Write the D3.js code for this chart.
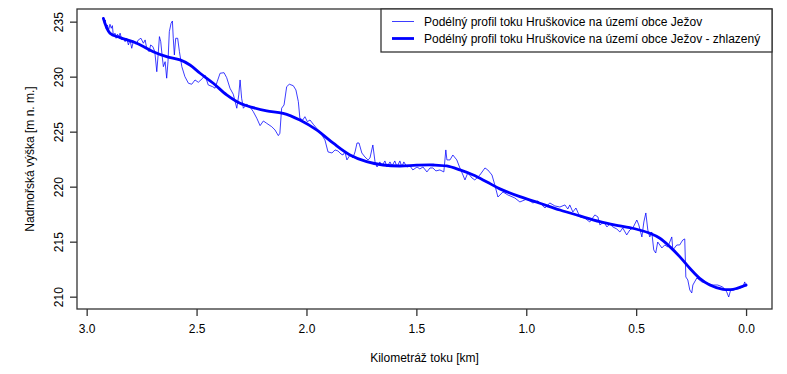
<!DOCTYPE html>
<html><head><meta charset="utf-8">
<script src="https://cdn.jsdelivr.net/npm/d3@7"></script>
<style>
body{margin:0;background:#fff}
text{font-family:"Liberation Sans",Arial,Helvetica,sans-serif;fill:#000}
</style>
</head><body>
<svg id="c" width="787" height="374"></svg>
<script>
// ---- data (km from mouth, altitude m n. m.) ----
const profileKm = [2.924,2.919,2.915,2.912,2.906,2.900,2.894,2.888,2.883,2.879,2.871,2.866,2.860,2.853,2.848,2.840,2.833,2.825,2.818,2.810,2.803,2.795,2.788,2.775,2.765,2.753,2.742,2.734,2.727,2.716,2.709,2.699,2.690,2.681,2.675,2.669,2.663,2.657,2.651,2.643,2.636,2.630,2.624,2.616,2.610,2.606,2.601,2.595,2.586,2.578,2.567,2.553,2.537,2.522,2.507,2.492,2.472,2.462,2.447,2.427,2.416,2.406,2.393,2.375,2.363,2.348,2.333,2.317,2.308,2.302,2.295,2.287,2.272,2.257,2.242,2.226,2.211,2.196,2.181,2.158,2.143,2.128,2.121,2.113,2.102,2.090,2.078,2.060,2.048,2.037,2.030,2.017,2.007,1.996,1.984,1.969,1.954,1.939,1.916,1.902,1.884,1.870,1.857,1.843,1.834,1.825,1.816,1.802,1.789,1.779,1.770,1.761,1.748,1.734,1.720,1.711,1.698,1.688,1.679,1.666,1.657,1.643,1.634,1.620,1.611,1.598,1.588,1.575,1.566,1.557,1.543,1.529,1.516,1.497,1.484,1.470,1.452,1.438,1.425,1.411,1.393,1.375,1.366,1.361,1.347,1.334,1.316,1.302,1.288,1.279,1.266,1.247,1.234,1.211,1.188,1.175,1.156,1.143,1.129,1.106,1.084,1.052,1.029,0.997,0.970,0.947,0.915,0.893,0.870,0.847,0.824,0.811,0.802,0.788,0.774,0.756,0.734,0.711,0.688,0.674,0.665,0.647,0.633,0.620,0.606,0.588,0.574,0.561,0.543,0.529,0.515,0.497,0.488,0.474,0.465,0.456,0.447,0.438,0.429,0.420,0.411,0.402,0.383,0.370,0.356,0.338,0.333,0.315,0.302,0.288,0.279,0.274,0.265,0.256,0.247,0.242,0.224,0.201,0.179,0.151,0.129,0.106,0.088,0.079,0.070,0.060,0.038,0.015,0.006,0.000];
const profileM = [235.30,234.85,235.15,234.40,234.70,234.25,234.76,234.40,234.64,233.79,233.95,233.49,233.86,233.64,233.95,233.34,233.49,233.18,233.49,232.88,233.34,232.58,233.18,232.95,233.34,233.49,233.04,233.34,232.58,232.27,232.88,232.73,232.27,230.45,231.97,233.64,233.18,231.97,230.91,231.36,229.86,231.36,234.09,234.85,235.06,233.49,231.97,233.49,233.49,232.27,230.91,230.00,229.40,229.31,229.70,229.49,229.86,230.15,229.25,229.09,228.95,229.55,230.31,230.36,229.91,228.95,228.40,227.13,228.34,229.70,228.04,227.13,227.49,227.27,226.82,226.22,225.55,225.97,225.76,225.45,225.15,224.64,224.85,227.13,227.43,229.09,229.31,229.18,228.79,227.73,226.22,226.06,226.36,225.91,226.06,225.67,225.31,224.97,224.25,223.16,223.06,223.34,223.25,222.97,222.88,223.16,222.43,222.88,222.61,223.16,223.97,223.97,223.06,222.70,222.43,222.61,223.79,222.25,221.79,222.25,221.88,222.34,221.79,222.25,221.88,222.34,221.79,222.34,221.79,222.25,221.79,221.88,221.52,221.79,221.61,221.79,221.34,221.70,221.70,221.43,221.52,221.34,223.34,222.43,222.43,222.88,222.43,221.70,221.06,220.61,221.25,220.79,220.61,221.06,221.70,221.52,221.06,220.15,219.06,219.52,219.25,218.97,218.61,218.88,218.52,218.70,218.06,218.52,218.25,218.15,218.34,217.97,218.34,217.70,218.06,217.25,217.15,216.79,217.43,217.25,216.52,216.79,216.34,216.61,216.34,216.15,215.88,216.25,215.61,216.06,216.25,216.97,216.52,215.43,216.79,217.61,216.06,215.43,215.88,214.25,213.97,214.97,214.43,214.70,214.52,215.43,214.25,214.70,214.70,215.15,215.25,211.79,211.52,210.61,210.34,211.06,211.70,211.34,211.25,211.06,211.06,210.88,210.43,209.97,210.61,210.61,210.70,210.88,211.34,210.88];

const smoothKm = [2.924,2.894,2.848,2.772,2.697,2.636,2.575,2.530,2.484,2.424,2.363,2.302,2.242,2.181,2.106,2.030,1.954,1.878,1.802,1.726,1.651,1.575,1.499,1.423,1.362,1.302,1.241,1.181,1.120,1.029,0.938,0.847,0.756,0.665,0.574,0.498,0.438,0.392,0.347,0.302,0.256,0.211,0.165,0.105,0.059,0.000];
const smoothM = [235.30,233.95,233.55,233.04,232.27,231.82,231.52,231.06,230.31,229.40,228.34,227.58,227.18,226.88,226.67,226.06,225.16,223.95,222.88,222.27,221.97,221.88,221.95,221.97,221.88,221.52,221.06,220.45,219.80,219.09,218.49,217.88,217.34,216.82,216.43,216.13,215.76,215.31,214.55,213.64,212.58,211.67,211.06,210.67,210.67,211.06];

const xTicks = [3.0,2.5,2.0,1.5,1.0,0.5,0.0];
const yTicks = [210,215,220,225,230,235];
const xTitle = "Kilometráž toku [km]";
const yTitle = "Nadmořská výška [m n. m.]";
const legendLabels = ["Podélný profil toku Hruškovice na území obce Ježov",
                      "Podélný profil toku Hruškovice na území obce Ježov - zhlazený"];

// ---- layout ----
const box = {l:77, r:772, t:9, b:309};
const svg = d3.select("#c");
const x = d3.scaleLinear().domain([3.044, -0.118]).range([box.l, box.r]);
const y = d3.scaleLinear().domain([208.88, 236.15]).range([box.b, box.t]);
const axisCol = "#333";

// lines
const profile = profileKm.map((k,i)=>[k, profileM[i]]);
const smooth = smoothKm.map((k,i)=>[k, smoothM[i]]);
const line = d3.line().x(d=>x(d[0])).y(d=>y(d[1]));
svg.append("path").datum(profile).attr("d", line)
  .attr("fill","none").attr("stroke","#0000ff").attr("stroke-opacity",0.85).attr("stroke-width",0.9).attr("stroke-linejoin","round");
svg.append("path").datum(smooth).attr("d", line.curve(d3.curveCatmullRom.alpha(0.5)))
  .attr("fill","none").attr("stroke","#0000ff").attr("stroke-width",2.8).attr("stroke-linecap","round");

// box
svg.append("rect").attr("x",box.l).attr("y",box.t).attr("width",box.r-box.l).attr("height",box.b-box.t)
  .attr("fill","none").attr("stroke",axisCol).attr("stroke-width",1.3);

// x axis
const gx = svg.append("g").attr("transform",`translate(0,${box.b})`)
  .call(d3.axisBottom(x).tickValues(xTicks).tickFormat(d3.format(".1f")).tickSize(7).tickPadding(8));
gx.select(".domain").remove();
gx.selectAll(".tick line").attr("stroke",axisCol).attr("stroke-width",1.3);
gx.selectAll(".tick text").attr("font-size",12).attr("font-family","Liberation Sans, Arial, sans-serif").attr("fill","#000");

// y axis
const gy = svg.append("g").attr("transform",`translate(${box.l},0)`)
  .call(d3.axisLeft(y).tickValues(yTicks).tickSize(7));
gy.select(".domain").remove();
gy.selectAll(".tick line").attr("stroke",axisCol).attr("stroke-width",1.3);
gy.selectAll(".tick text").attr("font-size",12).attr("font-family","Liberation Sans, Arial, sans-serif").attr("fill","#000")
  .attr("transform","rotate(-90)").attr("x",0).attr("y",-14.4).attr("dy",0).attr("text-anchor","middle");

// titles
svg.append("text").attr("x",(box.l+box.r)/2).attr("y",362).attr("text-anchor","middle").attr("font-size",12).text(xTitle);
svg.append("text").attr("transform",`translate(33.8,${(box.t+box.b)/2}) rotate(-90)`).attr("text-anchor","middle").attr("font-size",12).text(yTitle);

// legend
const lg = {x:381, y:9, w:box.r-381, h:43};
svg.append("rect").attr("x",lg.x).attr("y",lg.y).attr("width",lg.w).attr("height",lg.h)
  .attr("fill","#fff").attr("stroke",axisCol).attr("stroke-width",1.3);
legendLabels.forEach((lab,i)=>{
  const yy = lg.y + 12.5 + i*17;
  svg.append("line").attr("x1",392).attr("x2",414).attr("y1",yy).attr("y2",yy)
    .attr("stroke","#0000ff").attr("stroke-opacity", i===0?0.85:1).attr("stroke-width", i===0?0.9:2.8);
  svg.append("text").attr("x",424).attr("y",yy).attr("dy","0.35em").attr("font-size",12).text(lab);
});
</script>
</body></html>
